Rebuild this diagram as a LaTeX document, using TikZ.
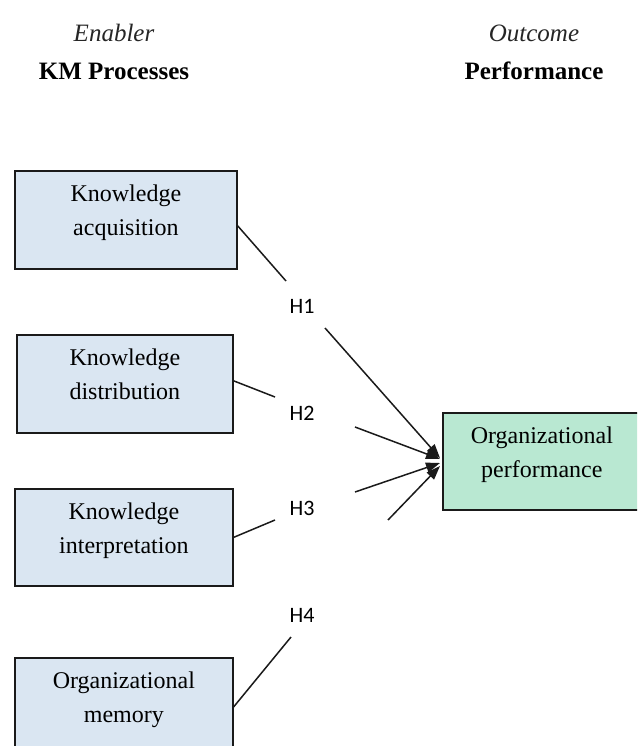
\documentclass[tikz,border=0pt]{standalone}
\usepackage{fontspec}
\setmainfont{Liberation Serif}
\newfontfamily\hfont{Carlito}
\usetikzlibrary{arrows.meta}
\definecolor{boxblue}{HTML}{DAE6F2}
\definecolor{boxgreen}{HTML}{B9E8D2}
\definecolor{edgecol}{HTML}{1A1A1A}
\newcommand{\boxtxt}[2]{\raisebox{8pt}[\height][\depth]{\begin{tabular}{@{}c@{}}#1\\#2\end{tabular}}}
\begin{document}
\begin{tikzpicture}[x=1pt,y=-1pt,
  kmbox/.style={draw=edgecol, line width=1.7pt, fill=boxblue, anchor=north west, inner sep=0pt, align=center, font=\fontsize{24}{34}\selectfont},
  outbox/.style={kmbox, fill=boxgreen},
  headit/.style={font=\fontsize{25}{30}\selectfont\itshape, text=black!85},
  headbf/.style={font=\fontsize{25}{30}\selectfont\bfseries},
  hlab/.style={font=\hfont\fontsize{22}{26}\selectfont, inner sep=0pt},
  conn/.style={draw=edgecol, line width=1.5pt},
  arr/.style={conn, -{Triangle[length=14pt,width=10pt]}}]
\clip (0,0) rectangle (637,746);
\fill[white] (0,0) rectangle (637,746);

% headers
\node[headit] (en) at (114,33) {Enabler};
\node[headbf] (km) at (114,71) {KM Processes};
\node[headit] (oc) at (534,33) {Outcome};
\node[headbf] (pf) at (534,71) {Performance};

% boxes
\node[kmbox, minimum width=222pt, minimum height=98pt] (k1) at (14,170) {\boxtxt{Knowledge}{acquisition}};
\node[kmbox, minimum width=216pt, minimum height=98pt] (k2) at (16,334) {\boxtxt{Knowledge}{distribution}};
\node[kmbox, minimum width=218pt, minimum height=97pt] (k3) at (14,488) {\boxtxt{Knowledge}{interpretation}};
\node[kmbox, minimum width=218pt, minimum height=98pt] (k4) at (14,657) {\boxtxt{Organizational}{memory}};
\node[outbox, minimum width=210pt, minimum height=97pt] (op) at (442,412) {\hspace*{-12pt}\boxtxt{Organizational}{performance}};

% labels
\node[hlab] (h1) at (302,306) {H1};
\node[hlab] (h2) at (302,413) {H2};
\node[hlab] (h3) at (302,508) {H3};
\node[hlab] (h4) at (302,615) {H4};

% gap coordinates
\coordinate (a1) at (286,281); \coordinate (b1) at (325,328); \coordinate (t1) at (440,458);
\coordinate (a2) at (275,397); \coordinate (b2) at (355,427); \coordinate (t2) at (440,459);
\coordinate (a3) at (275,520); \coordinate (b3) at (355,492); \coordinate (t3) at (440,463);
\coordinate (a4) at (291,637); \coordinate (b4) at (388,520); \coordinate (t4) at (440,466);

% connectors
\draw[conn] ([yshift=-6pt]k1.east) -- (a1);
\draw[arr] (b1) -- (t1);
\draw[conn] ([yshift=3pt]k2.east) -- (a2);
\draw[arr] (b2) -- (t2);
\draw[conn] (k3.east) -- (a3);
\draw[arr] (b3) -- (t3);
\draw[conn] (k4.east) -- (a4);
\draw[arr] (b4) -- (t4);
\end{tikzpicture}
\end{document}
